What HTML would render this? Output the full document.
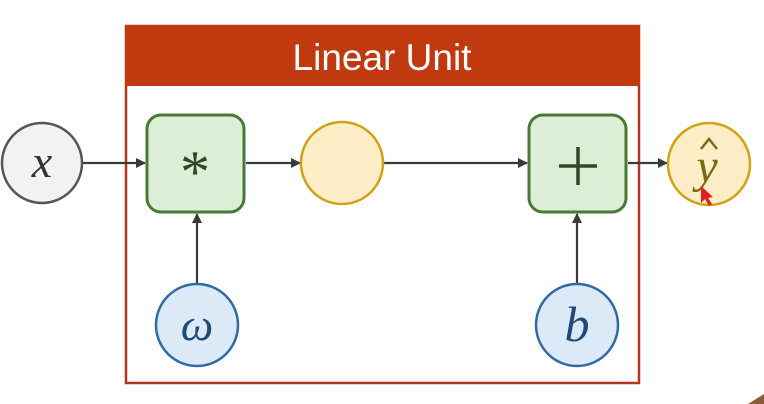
<!DOCTYPE html>
<html><head><meta charset="utf-8"><style>
html,body{margin:0;padding:0;background:#fff;width:764px;height:404px;overflow:hidden}
svg text{font-family:"Liberation Serif",serif}
</style></head><body>
<svg width="764" height="404" viewBox="0 0 764 404">
<defs><marker id="ar" markerWidth="10" markerHeight="10" refX="9" refY="5" orient="auto" markerUnits="userSpaceOnUse"><path d="M0,0 L10,5 L0,10 z" fill="#3a3a3a"/></marker></defs>
<g>
<rect x="126" y="26" width="513" height="357" fill="none" stroke="#b5361c" stroke-width="2.5"/>
<rect x="125" y="25" width="515" height="61" fill="#c0390f"/>
<text x="382" y="70" text-anchor="middle" fill="#fff" style="font-family:'Liberation Sans',sans-serif;font-size:37px">Linear Unit</text>
</g>
<g stroke="#3a3a3a" stroke-width="2.2" fill="none">
<line x1="83" y1="163" x2="145" y2="163" marker-end="url(#ar)"/>
<line x1="246" y1="163" x2="300" y2="163" marker-end="url(#ar)"/>
<line x1="384" y1="163" x2="527" y2="163" marker-end="url(#ar)"/>
<line x1="628" y1="163" x2="667" y2="163" marker-end="url(#ar)"/>
<line x1="197" y1="284" x2="197" y2="214" marker-end="url(#ar)"/>
<line x1="577" y1="284" x2="577" y2="214" marker-end="url(#ar)"/>
</g>
<g>
<circle cx="42" cy="163" r="40" fill="#f2f2f2" stroke="#555" stroke-width="2.5"/>
<text x="42" y="177" text-anchor="middle" font-size="46" font-style="italic" fill="#333">x</text>
</g>
<g>
<rect x="147" y="115" width="97" height="97" rx="14" fill="#dcefd6" stroke="#4a7a32" stroke-width="3"/>
<text x="195" y="192" text-anchor="middle" font-size="60" fill="#2e4a24">*</text>
</g>
<g>
<circle cx="342" cy="163" r="41" fill="#fdeec8" stroke="#d3a214" stroke-width="2.5"/>
</g>
<g>
<rect x="529" y="115" width="97" height="97" rx="14" fill="#dcefd6" stroke="#4a7a32" stroke-width="3"/>
<line x1="559" y1="166" x2="597" y2="166" stroke="#2e4a24" stroke-width="3.5"/>
<line x1="578" y1="147" x2="578" y2="185" stroke="#2e4a24" stroke-width="3.5"/>
</g>
<g>
<circle cx="709" cy="164" r="41" fill="#fdeec8" stroke="#d3a214" stroke-width="2.5"/>
<text x="707" y="182" text-anchor="middle" font-size="48" font-style="italic" fill="#7a6a10">y</text>
<path d="M701,149 L709,139 L717,149" fill="none" stroke="#7a6a10" stroke-width="2.5"/>
<path d="M701,186 L701,203 L705,199 L709,206 L712,204 L708,198 L713,197 z" fill="#e02020"/>
</g>
<g>
<circle cx="197" cy="325" r="41" fill="#dce9f7" stroke="#2f6aa8" stroke-width="2.5"/>
<text x="197" y="340" text-anchor="middle" font-size="46" font-style="italic" fill="#1f4a7a">ω</text>
</g>
<g>
<circle cx="577" cy="325" r="41" fill="#dce9f7" stroke="#2f6aa8" stroke-width="2.5"/>
<text x="577" y="341" text-anchor="middle" font-size="50" font-style="italic" fill="#1f4a7a">b</text>
</g>
<path d="M748,404 L764,394 L764,404 z" fill="#8a5a3a"/>
</svg>
</body></html>
